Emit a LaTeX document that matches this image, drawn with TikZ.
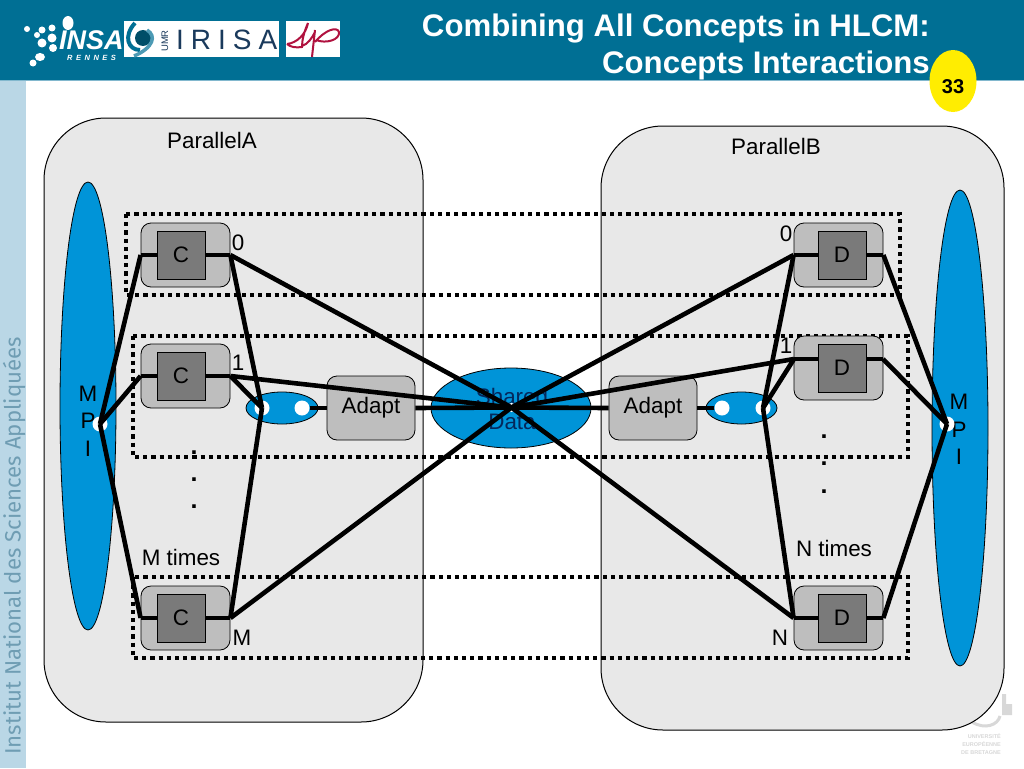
\documentclass[tikz,border=0pt]{standalone}
\usepackage{fontspec}
\setmainfont{Liberation Sans}
\newfontfamily\sidefont{Fira Sans}
\usetikzlibrary{shapes.geometric}
\definecolor{headblue}{HTML}{006F94}
\definecolor{sideblue}{HTML}{BAD7E6}
\definecolor{sidetext}{HTML}{6F9DB3}
\definecolor{panelgray}{HTML}{E8E8E8}
\definecolor{outergray}{HTML}{BEBEBE}
\definecolor{innergray}{HTML}{7A7A7A}
\definecolor{mpiblue}{HTML}{0094D8}
\definecolor{lipred}{HTML}{B0123F}
\definecolor{irisablue}{HTML}{1A3A5C}
\definecolor{uebgray}{HTML}{D8D8D8}
\definecolor{shareddark}{HTML}{04285C}
\newcommand{\labelsize}{\fontsize{22.4}{27}\selectfont}
\newcommand{\stacksize}{\fontsize{22.4}{27.5}\selectfont}
\newcommand{\sharedsize}{\fontsize{22.4}{25}\selectfont}
\newcommand{\titlesize}{\fontsize{31.2}{37.5}\selectfont}
\newcommand{\dotsize}{\fontsize{25}{27}\selectfont\bfseries}
\tikzset{
  every node/.style={font=\labelsize,inner sep=0pt},
  panel/.style={draw=black,line width=1pt,fill=panelgray,rounded corners=62pt},
  outerbox/.style={draw=black,line width=0.8pt,fill=outergray,rounded corners=10pt,
    minimum width=89pt,minimum height=64pt},
  innerbox/.style={draw=black,line width=0.8pt,fill=innergray,
    minimum width=48pt,minimum height=48pt},
  blueoval/.style={ellipse,draw=black,line width=0.8pt,fill=mpiblue},
  port/.style={circle,fill=white,minimum size=15pt},
  dotbox/.style={draw=black,line width=4.4pt,dash pattern=on 4.2pt off 4pt},
  wire/.style={draw=black,line width=4.6pt},
}
\begin{document}
\begin{tikzpicture}[x=1pt,y=-1pt]
  \useasboundingbox (0,0) rectangle (1024,768);
  \fill[white] (0,0) rectangle (1024,768);
  % slide frame
  \fill[sideblue] (0,80) rectangle (26,768);
  \fill[headblue] (0,0) rectangle (1024,80);
  \fill[sideblue!70!headblue] (0,80) rectangle (1024,81);
  \node[font=\sidefont\fontsize{22.2}{26}\selectfont,color=sidetext,rotate=90,anchor=west] (sidetitle)
    at (14,755) {Institut National des Sciences Appliquées};
  \node[font=\titlesize\bfseries,color=white,align=right,anchor=east] (title) at (930,47)
    {Combining All Concepts in HLCM:\\Concepts Interactions};
  \node[ellipse,fill=yellow!95!orange,minimum width=47pt,minimum height=62pt] (pagebadge) at (953,81) {};
  \node[font=\fontsize{20}{24}\selectfont\bfseries] (pagenum) at (953,87) {33};
  % logos
  \node[font=\fontsize{27}{30}\selectfont\bfseries\itshape,color=white,anchor=west] (insa) at (59,40) {INSA};
  \node[font=\fontsize{7.5}{8}\selectfont\bfseries\itshape,color=white,anchor=west] (rennes) at (67,57.5)
    {R\hspace{3.5pt}E\hspace{3.5pt}N\hspace{3.5pt}N\hspace{3.5pt}E\hspace{3.5pt}S};
  \fill[white] (27,29) circle (3pt) (37,35) circle (3pt) (42,30) circle (3.5pt) (52,28) circle (3.5pt)
    (68,23) ellipse (5.5pt and 7pt) (42,43) circle (4.5pt) (52,38) circle (4.5pt) (53,48) circle (4pt)
    (40,57) ellipse (5pt and 4pt) (33,63) circle (3.5pt);
  \fill[white] (124,21) rectangle (279,57);
  \fill[white] (286,21) rectangle (340,57);
  \draw[line width=4pt,color=headblue] (135,23) .. controls (123,36) and (128,50) .. (140,50);
  \fill[headblue!70!black] (143,38) circle (8pt);
  \draw[line width=3.5pt,color=headblue!70] (147,30) .. controls (157,36) and (153,48) .. (134,56);
  \node[font=\fontsize{9.5}{10}\selectfont,color=irisablue,rotate=90] (umr) at (165,41) {UMR};
  \node[font=\fontsize{28}{30}\selectfont,color=irisablue,anchor=west] (irisa) at (176,40)
    {I\hspace{7pt}R\hspace{7pt}I\hspace{7pt}S\hspace{7pt}A};
  \draw[line width=2pt,color=lipred] (287,44) .. controls (297,43) and (306,34) .. (308,23)
    .. controls (304,32) and (302,40) .. (302,47) .. controls (296,48) and (290,47) .. (287,44)
    (302,46) .. controls (308,44) and (312,38) .. (315,32) (315,30) -- (312,57)
    (315,42) .. controls (325,30) and (337,26) .. (339,32)
    .. controls (340,40) and (326,44) .. (316,40);
  % faint logo behind the panels
  \draw[line width=3pt,color=uebgray] (972,722) .. controls (985,730) and (998,725) .. (1000,716);
  \fill[uebgray] (1002,694) rectangle (1006,715) (1002,704) rectangle (1012,715);
  \node[font=\fontsize{5.5}{8}\selectfont\bfseries,color=uebgray,align=right,anchor=north east] (ueb)
    at (1001,733) {UNIVERSITÉ\\EUROPÉENNE\\DE BRETAGNE};
  % panels
  \draw[panel] (44,118) rectangle (423,722);
  \draw[panel] (601,126) rectangle (1004,730);
  \node (parA) at (212,140) {ParallelA};
  \node (parB) at (776,146) {ParallelB};
  \node[blueoval,minimum width=56pt,minimum height=448pt] (mpiA) at (88,406) {};
  \node[blueoval,minimum width=56pt,minimum height=476pt] (mpiB) at (960,428) {};
  \node[align=center,font=\stacksize] (mpiAtxt) at (88,421) {M\\P\\I};
  \node[align=center,font=\stacksize] (mpiBtxt) at (959,429.5) {M\\P\\I};
  \draw[dotbox] (126,214) rectangle (900,295);
  \draw[dotbox] (133,336) rectangle (908,457);
  \draw[dotbox] (133,577) rectangle (908,658);
  % left blocks
  \node[outerbox] (c0box) at (185.5,255) {};
  \node[innerbox] (c0) at (181,255) {C};
  \node[outerbox] (c1box) at (185.5,376) {};
  \node[innerbox] (c1) at (181,376) {C};
  \node[outerbox] (cMbox) at (185.5,618) {};
  \node[innerbox] (cM) at (181,618) {C};
  \node (c0lab) at (238,243) {0};
  \node (c1lab) at (238,363) {1};
  \node (cMlab) at (242,638) {M};
  \node (mtimes) at (181,557) {M times};
  \node[font=\dotsize] (dotA1) at (194,453) {.};
  \node[font=\dotsize] (dotA2) at (194,480) {.};
  \node[font=\dotsize] (dotA3) at (194,507) {.};
  % right blocks
  \node[outerbox] (d0box) at (838.5,255) {};
  \node[innerbox] (d0) at (842,255) {D};
  \node[outerbox] (d1box) at (838.5,368) {};
  \node[innerbox] (d1) at (842,368) {D};
  \node[outerbox] (dNbox) at (838.5,618) {};
  \node[innerbox] (dN) at (842,618) {D};
  \coordinate (d1left) at (794,359);
  \coordinate (d1in) at (818,359);
  \coordinate (d1out) at (866,359);
  \coordinate (d1right) at (883,359);
  \node (d0lab) at (786,234) {0};
  \node (d1lab) at (786,346) {1};
  \node (dNlab) at (780,638) {N};
  \node (ntimes) at (834,548) {N times};
  \node[font=\dotsize] (dotB1) at (824,437) {.};
  \node[font=\dotsize] (dotB2) at (824,464) {.};
  \node[font=\dotsize] (dotB3) at (824,492) {.};
  % shared data and adapters
  \node[blueoval,minimum width=160pt,minimum height=80pt] (shared) at (511,408) {};
  \node[align=center,color=shareddark,font=\sharedsize] (sharedtxt) at (512,409) {Shared\\Data};
  \node[port,minimum size=9pt] (hub) at (511.5,407.5) {};
  \node[outerbox,minimum width=88pt] (adaptA) at (371,408) {Adapt};
  \node[outerbox,minimum width=88pt] (adaptB) at (653,408) {Adapt};
  \node[blueoval,minimum width=72pt,minimum height=32pt] (linkA) at (282,408) {};
  \node[blueoval,minimum width=71pt,minimum height=32pt] (linkB) at (741.5,408) {};
  \node[port] (portA1) at (262,408) {};
  \node[port] (portA2) at (302,408) {};
  \node[port] (portB1) at (722,408) {};
  \node[port] (portB2) at (763,408) {};
  \node[port] (portM) at (100,424) {};
  \node[port] (portN) at (947,424) {};
  % connectors
  \draw[wire] (c0box.west) -- (c0.west);
  \draw[wire] (c0.east) -- (c0box.east);
  \draw[wire] (c1box.west) -- (c1.west);
  \draw[wire] (c1.east) -- (c1box.east);
  \draw[wire] (cMbox.west) -- (cM.west);
  \draw[wire] (cM.east) -- (cMbox.east);
  \draw[wire] (d0box.west) -- (d0.west);
  \draw[wire] (d0.east) -- (d0box.east);
  \draw[wire] (d1left) -- (d1in);
  \draw[wire] (d1out) -- (d1right);
  \draw[wire] (dNbox.west) -- (dN.west);
  \draw[wire] (dN.east) -- (dNbox.east);
  \draw[wire] (c0box.west) -- (portM.center);
  \draw[wire] (c1box.west) -- (portM.center);
  \draw[wire] (cMbox.west) -- (portM.center);
  \draw[wire] (d0box.east) -- (portN.center);
  \draw[wire] (d1right) -- (portN.center);
  \draw[wire] (dNbox.east) -- (portN.center);
  \draw[wire] (c0box.east) -- (portA1.center);
  \draw[wire] (c1box.east) -- (portA1.center);
  \draw[wire] (cMbox.east) -- (portA1.center);
  \draw[wire] (d0box.west) -- (portB2.center);
  \draw[wire] (d1left) -- (portB2.center);
  \draw[wire] (dNbox.west) -- (portB2.center);
  \draw[wire] (c0box.east) -- (hub.center);
  \draw[wire] (c1box.east) -- (hub.center);
  \draw[wire] (cMbox.east) -- (hub.center);
  \draw[wire] (d0box.west) -- (hub.center);
  \draw[wire] (d1left) -- (hub.center);
  \draw[wire] (dNbox.west) -- (hub.center);
  \draw[wire] (portA2.east) -- (adaptA.west);
  \draw[wire] (portB1.west) -- (adaptB.east);
  \draw[wire] (adaptA.east) -- (hub.center);
  \draw[wire] (adaptB.west) -- (hub.center);
\end{tikzpicture}
\end{document}
